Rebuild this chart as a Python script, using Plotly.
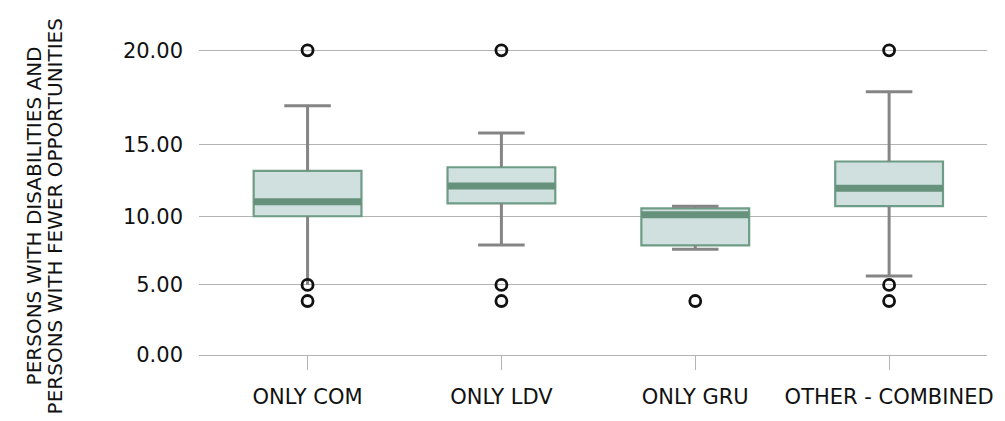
import numpy as np
import plotly.graph_objects as go

# ---------------- data ----------------
categories = ["ONLY COM", "ONLY LDV", "ONLY GRU", "OTHER - COMBINED"]
lower_whisker = [5.0, 7.9, 7.6, 5.65]
q1 = [10.0, 10.9, 7.88, 10.7]
median = [11.0, 12.1, 10.1, 11.95]
q3 = [13.15, 13.4, 10.55, 13.8]
upper_whisker = [17.05, 15.6, 10.7, 17.8]
outliers = [[20.0, 5.0, 3.85], [20.0, 5.0, 3.85], [3.85], [20.0, 5.0, 3.85]]
lower_cap_shown = [False, True, True, True]
tick_values = [0, 5, 10, 15, 20]

# piecewise value scale used by the original chart (value -> display units)
scale_domain = [0, 5, 10, 15, 20]
scale_range = [0, 71, 140.5, 213.5, 308.5]


def ys(v):
    return np.interp(np.asarray(v, dtype=float), scale_domain, scale_range)


# ---------------- style ----------------
FONT = "DejaVu Sans"
FS = 21
TITLE_FS = 20
BOX_W = 0.556
CAP_W = 0.24
WHISKER_C = "#858585"
BOX_LINE = "#6e9c86"
BOX_FILL = "#cfe0df"
MED_C = "#66927c"
GRID_C = "#b3b3b3"
TXT_C = "#111111"

xs = list(range(len(categories)))
fig = go.Figure()

# whiskers
wx, wy = [], []
for i in xs:
    wx += [i, i, None, i, i, None]
    wy += [float(ys(q3[i])), float(ys(upper_whisker[i])), None,
           float(ys(q1[i])), float(ys(lower_whisker[i])), None]
fig.add_trace(go.Scatter(x=wx, y=wy, mode="lines",
                         line=dict(color=WHISKER_C, width=3), hoverinfo="skip"))

# caps
cx, cy = [], []
for i in xs:
    yu = float(ys(upper_whisker[i]))
    cx += [i - CAP_W / 2, i + CAP_W / 2, None]
    cy += [yu, yu, None]
    if lower_cap_shown[i]:
        yl = float(ys(lower_whisker[i]))
        cx += [i - CAP_W / 2, i + CAP_W / 2, None]
        cy += [yl, yl, None]
fig.add_trace(go.Scatter(x=cx, y=cy, mode="lines",
                         line=dict(color=WHISKER_C, width=3), hoverinfo="skip"))

# boxes
fig.add_trace(go.Box(
    x=xs,
    q1=ys(q1).tolist(),
    median=ys(median).tolist(),
    q3=ys(q3).tolist(),
    lowerfence=ys(q1).tolist(),
    upperfence=ys(q3).tolist(),
    width=BOX_W,
    whiskerwidth=0,
    fillcolor=BOX_FILL,
    line=dict(color=BOX_LINE, width=2.2),
    hoverinfo="skip",
))

# medians (thick band)
mx, my = [], []
for i in xs:
    m = float(ys(median[i]))
    mx += [i - BOX_W / 2, i + BOX_W / 2, None]
    my += [m, m, None]
fig.add_trace(go.Scatter(x=mx, y=my, mode="lines",
                         line=dict(color=MED_C, width=7), hoverinfo="skip"))

# outliers
ox, oy = [], []
for i in xs:
    for v in outliers[i]:
        ox.append(i)
        oy.append(float(ys(v)))
fig.add_trace(go.Scatter(x=ox, y=oy, mode="markers",
                         marker=dict(symbol="circle-open", size=11,
                                     color=TXT_C, line=dict(width=2.8, color=TXT_C)),
                         hoverinfo="skip"))

# y-axis title (two lines, rotated)
fig.add_annotation(text="PERSONS WITH DISABILITIES AND", xref="paper", yref="paper",
                   x=0, y=0.44, xanchor="center", yanchor="middle", xshift=-165,
                   textangle=-90, showarrow=False,
                   font=dict(family=FONT, size=TITLE_FS, color=TXT_C))
fig.add_annotation(text="PERSONS WITH FEWER OPPORTUNITIES", xref="paper", yref="paper",
                   x=0, y=0.44, xanchor="center", yanchor="middle", xshift=-144,
                   textangle=-90, showarrow=False,
                   font=dict(family=FONT, size=TITLE_FS, color=TXT_C))

fig.update_layout(
    width=1005, height=421,
    margin=dict(l=199, r=16, t=40, b=62),
    paper_bgcolor="white", plot_bgcolor="white",
    showlegend=False,
    hovermode=False,
    font=dict(family=FONT, size=FS, color=TXT_C),
    xaxis=dict(
        range=[-0.56, 3.505],
        tickvals=xs, ticktext=categories,
        ticks="outside", ticklen=14, tickcolor=GRID_C, tickwidth=1,
        showline=True, linecolor=GRID_C, linewidth=1,
        showgrid=False, zeroline=False,
        ticklabelstandoff=9,
        tickfont=dict(family=FONT, size=FS, color=TXT_C),
    ),
    yaxis=dict(
        range=[0, 319],
        tickvals=ys(tick_values).tolist(),
        ticktext=[f"{v:.2f}" for v in tick_values],
        showgrid=True, gridcolor=GRID_C, gridwidth=1,
        zeroline=False, showline=False, ticks="",
        ticklabelstandoff=15,
        tickfont=dict(family=FONT, size=FS, color=TXT_C),
    ),
)

fig.write_html("out.html", config={"displayModeBar": False},
               post_script="document.body.style.margin='0';document.body.style.overflow='hidden';")
